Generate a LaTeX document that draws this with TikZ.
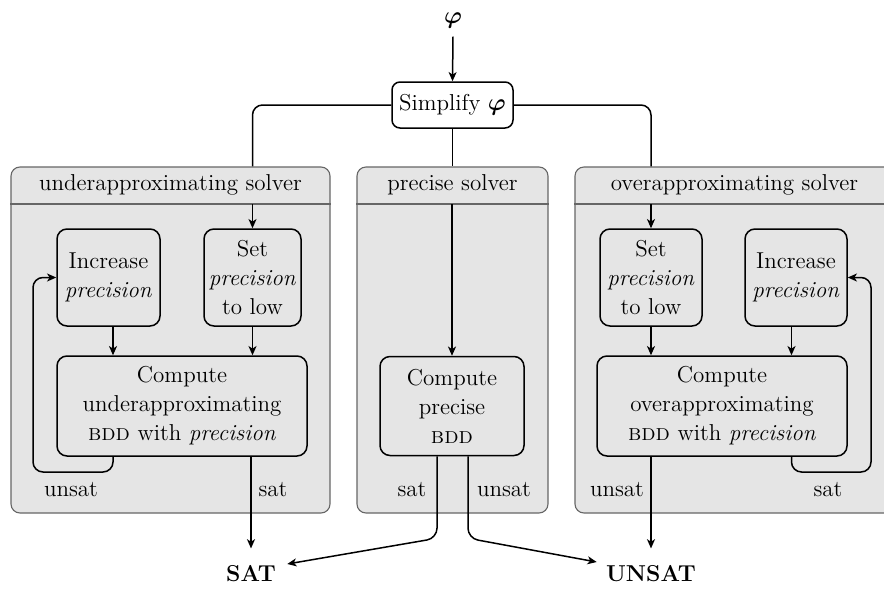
\documentclass[tikz,border=0pt]{standalone}
\usepackage{bm}
\usepackage{fontspec}
\usetikzlibrary{arrows.meta,calc}

% small-caps name of the data structure
\newcommand{\bddname}{\textsc{bdd}}

\begin{document}
\begin{tikzpicture}[
  x=0.5pt, y=-0.5pt,
  font=\fontsize{11.5}{14.5}\selectfont,
  solverbox/.style={draw=black!60, fill=black!10, line width=0.55pt,
    rounded corners=4.5pt, minimum height=173pt, inner sep=0pt},
  headline/.style={draw=black!60, line width=0.55pt},
  procbox/.style={draw, fill=black!10, line width=0.75pt, rounded corners=5pt,
    align=center, inner sep=0pt, minimum height=48.5pt},
  link/.style={line width=0.75pt, rounded corners=5pt},
  flow/.style={link, -{Stealth[length=4.6pt,width=4pt,inset=1.3pt]}},
  lbl/.style={inner sep=0pt},
  result/.style={font=\fontsize{11.5}{14.5}\selectfont\bfseries, inner sep=0pt},
]
\useasboundingbox (0,0) rectangle (884,590);

% the three solvers
\node[solverbox, minimum width=159.5pt] (us) at (170.5,340) {};
\node[solverbox, minimum width=95.5pt]  (ps) at (452.5,340) {};
\node[solverbox, minimum width=159.5pt] (os) at (734.5,340) {};

\coordinate (uhead) at (170.5,204);
\coordinate (phead) at (452.5,204);
\coordinate (ohead) at (734.5,204);
\draw[headline] (us.west |- uhead) -- (us.east |- uhead);
\draw[headline] (ps.west |- phead) -- (ps.east |- phead);
\draw[headline] (os.west |- ohead) -- (os.east |- ohead);

\node (ut) at (170.5,185) {underapproximating solver};
\node (pt) at (452.5,185) {precise solver};
\node (ot) at (734.5,185) {overapproximating solver};

% input formula and simplification
\node[inner sep=4pt] (phi) at (453,20.5) {$\bm{\varphi}$};
\node[procbox, minimum width=60.5pt, minimum height=23pt, rounded corners=4pt, fill=white]
  (simp) at (452.5,105) {Simplify $\bm{\varphi}$};

% underapproximating solver
\node[procbox, minimum width=51.5pt] (uinc) at (108.5,277.5) {Increase\\\textit{precision}};
\node[procbox, minimum width=48.5pt] (uset) at (252.5,277.5) {Set\\\textit{precision}\\to low};
\node[procbox, minimum width=125pt, minimum height=50pt] (ucomp) at (182,406)
  {Compute\\underapproximating\\\bddname{} with \textit{precision}};

% precise solver
\node[procbox, minimum width=72pt, minimum height=49.5pt] (pcomp) at (452,406)
  {Compute\\precise\\\bddname};

% overapproximating solver
\node[procbox, minimum width=51pt] (oset) at (651,277.5) {Set\\\textit{precision}\\to low};
\node[procbox, minimum width=51pt] (oinc) at (796,277.5) {Increase\\\textit{precision}};
\node[procbox, minimum width=125pt, minimum height=50pt] (ocomp) at (722,406)
  {Compute\\overapproximating\\\bddname{} with \textit{precision}};

% results
\node[result] (sat) at (251,574) {SAT};
\node[result] (unsat) at (651,574) {UNSAT};

% edge labels
\node[lbl] (l1) at (71,490) {unsat};
\node[lbl] (l2) at (273,490) {sat};
\node[lbl] (l3) at (412,490) {sat};
\node[lbl] (l4) at (504,490) {unsat};
\node[lbl] (l5) at (617,490) {unsat};
\node[lbl] (l6) at (828,490) {sat};

% connectors
\draw[flow] (phi.south) -- (simp.north);
\draw[link] (simp.west) -| (uset.north |- us.north);
\draw[link] (simp.south) -- (ps.north);
\draw[link] (simp.east) -| (oset.north |- os.north);

\draw[flow] (uset.north |- uhead) -- (uset.north);
\draw[flow] (pcomp.north |- phead) -- (pcomp.north);
\draw[flow] (oset.north |- ohead) -- (oset.north);

\draw[flow] ([xshift=2.25pt]uinc.south) -- ([xshift=2.25pt]uinc.south |- ucomp.north);
\draw[flow] (uset.south) -- (uset.south |- ucomp.north);
\draw[flow] (oset.south) -- (oset.south |- ocomp.north);
\draw[flow] ([xshift=-2.25pt]oinc.south) -- ([xshift=-2.25pt]oinc.south |- ocomp.north);

% refinement loops
\draw[flow] ([xshift=2.25pt]uinc.south |- ucomp.south) |- (33,472) |- (uinc.west);
\draw[flow] ([xshift=-2.25pt]oinc.south |- ocomp.south) |- (871,472) |- (oinc.east);

% outcomes
\draw[flow] (sat.north |- ucomp.south) -- ([yshift=8.5pt]sat.north);
\draw[flow] (oset.south |- ocomp.south) -- ([yshift=8.5pt]oset.south |- unsat.north);
\draw[flow] ([xshift=-7.5pt]pcomp.south) -- ++(0,82) -- ([xshift=5.5pt,yshift=5pt]sat.east);
\draw[flow] ([xshift=8pt]pcomp.south) -- ++(0,82) -- ([xshift=-4.5pt,yshift=6pt]unsat.west);
\end{tikzpicture}
\end{document}
